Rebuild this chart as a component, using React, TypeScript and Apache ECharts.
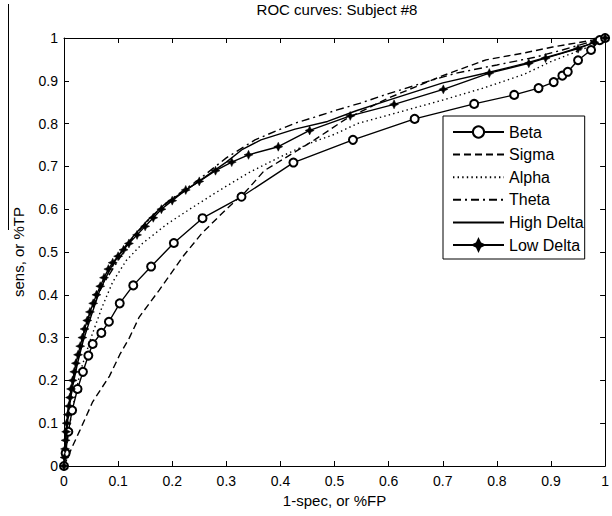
import React, { useEffect, useRef } from "react";
import * as echarts from "echarts";

const titleText = "ROC curves: Subject #8";
const xAxisName = "1-spec, or %FP";
const yAxisName = "sens, or %TP";
const seriesNames = ["Beta", "Sigma", "Alpha", "Theta", "High Delta", "Low Delta"];
const tickLabels = ["0", "0.1", "0.2", "0.3", "0.4", "0.5", "0.6", "0.7", "0.8", "0.9", "1"];

const betaX = [0, 0.003, 0.008, 0.015, 0.025, 0.035, 0.045, 0.053, 0.069, 0.083, 0.103, 0.128, 0.161, 0.203, 0.256, 0.328, 0.424, 0.534, 0.648, 0.758, 0.832, 0.877, 0.905, 0.921, 0.931, 0.95, 0.974, 0.99, 1];
const betaY = [0, 0.03, 0.08, 0.13, 0.18, 0.22, 0.258, 0.285, 0.311, 0.337, 0.38, 0.422, 0.466, 0.521, 0.579, 0.629, 0.709, 0.762, 0.811, 0.846, 0.867, 0.883, 0.897, 0.912, 0.921, 0.948, 0.972, 0.995, 1];

const sigmaX = [0, 0.015, 0.03, 0.053, 0.084, 0.103, 0.121, 0.139, 0.176, 0.222, 0.255, 0.3, 0.335, 0.37, 0.427, 0.463, 0.52, 0.6, 0.7, 0.78, 0.85, 0.903, 0.945, 0.976, 1];
const sigmaY = [0, 0.044, 0.085, 0.15, 0.21, 0.26, 0.3, 0.348, 0.411, 0.493, 0.544, 0.6, 0.64, 0.69, 0.734, 0.762, 0.81, 0.86, 0.912, 0.949, 0.965, 0.979, 0.988, 0.995, 1];

const alphaX = [0, 0.005, 0.015, 0.03, 0.05, 0.07, 0.09, 0.115, 0.145, 0.19, 0.236, 0.286, 0.341, 0.396, 0.456, 0.5, 0.542, 0.62, 0.7, 0.775, 0.85, 0.9, 0.969, 1];
const alphaY = [0, 0.05, 0.13, 0.22, 0.3, 0.37, 0.43, 0.48, 0.52, 0.565, 0.603, 0.643, 0.685, 0.72, 0.755, 0.775, 0.8, 0.827, 0.855, 0.883, 0.915, 0.945, 0.979, 1];

const thetaX = [0, 0.004, 0.01, 0.02, 0.035, 0.05, 0.07, 0.095, 0.125, 0.16, 0.2, 0.25, 0.3, 0.353, 0.396, 0.427, 0.463, 0.505, 0.548, 0.6, 0.676, 0.725, 0.8, 0.87, 0.921, 0.97, 1];
const thetaY = [0, 0.07, 0.14, 0.22, 0.3, 0.36, 0.42, 0.47, 0.53, 0.58, 0.625, 0.67, 0.72, 0.762, 0.785, 0.801, 0.815, 0.832, 0.848, 0.87, 0.9, 0.918, 0.937, 0.955, 0.972, 0.99, 1];

const highDeltaX = [0, 0.003, 0.008, 0.015, 0.025, 0.035, 0.05, 0.066, 0.085, 0.105, 0.127, 0.155, 0.188, 0.22, 0.249, 0.3, 0.33, 0.364, 0.427, 0.487, 0.54, 0.6, 0.7, 0.786, 0.85, 0.92, 0.97, 1];
const highDeltaY = [0, 0.06, 0.12, 0.18, 0.24, 0.29, 0.35, 0.41, 0.46, 0.5, 0.535, 0.575, 0.614, 0.64, 0.665, 0.71, 0.74, 0.762, 0.787, 0.805, 0.83, 0.855, 0.895, 0.92, 0.94, 0.965, 0.985, 1];

const lowDeltaX = [0, 0.001, 0.002, 0.003, 0.004, 0.005, 0.007, 0.009, 0.011, 0.013, 0.016, 0.019, 0.022, 0.026, 0.03, 0.034, 0.038, 0.043, 0.048, 0.054, 0.06, 0.067, 0.074, 0.082, 0.09, 0.1, 0.11, 0.12, 0.135, 0.15, 0.165, 0.18, 0.2, 0.225, 0.25, 0.28, 0.31, 0.341, 0.396, 0.454, 0.529, 0.61, 0.701, 0.786, 0.859, 0.89, 0.95, 0.98, 1];
const lowDeltaY = [0, 0.02, 0.04, 0.06, 0.08, 0.1, 0.12, 0.14, 0.16, 0.18, 0.2, 0.22, 0.24, 0.26, 0.28, 0.3, 0.32, 0.34, 0.36, 0.38, 0.4, 0.42, 0.44, 0.46, 0.475, 0.49, 0.505, 0.52, 0.54, 0.56, 0.58, 0.6, 0.62, 0.645, 0.665, 0.69, 0.71, 0.727, 0.746, 0.784, 0.818, 0.845, 0.88, 0.918, 0.941, 0.953, 0.975, 0.99, 1];

const FONT = "Liberation Sans";
const starPath = "path://M5,0 L6.6,3.4 L10,5 L6.6,6.6 L5,10 L3.4,6.6 L0,5 L3.4,3.4 Z";

const zip = (xs: number[], ys: number[]) => xs.map((x, i) => [x, ys[i]]);

export default function App() {
  const ref = useRef<HTMLDivElement>(null);
  useEffect(() => {
    if (!ref.current) return;
    const chart = echarts.init(ref.current, undefined, { renderer: "svg" });
    const baseLine = (name: string, xs: number[], ys: number[], lineType: any, extra: any = {}) => ({
      name,
      type: "line",
      data: zip(xs, ys),
      symbol: "none",
      showSymbol: false,
      smooth: false,
      lineStyle: { color: "#000", width: 1.4, type: lineType },
      itemStyle: { color: "#000" },
      ...extra,
    });
    const axisCommon = {
      type: "value",
      min: 0,
      max: 1,
      interval: 0.1,
      splitLine: { show: false },
      axisLine: { show: true, onZero: false, lineStyle: { color: "#000", width: 1 } },
      axisTick: { show: true, inside: true, length: 5, lineStyle: { color: "#000" } },
    };
    const hiddenSymbol = { color: "rgba(0,0,0,0)", borderWidth: 0, opacity: 0 };
    chart.setOption({
      animation: false,
      backgroundColor: "#fff",
      textStyle: { fontFamily: FONT },
      title: {
        text: titleText,
        left: 337,
        top: 2,
        padding: 0,
        textAlign: "center",
        textStyle: { fontFamily: FONT, fontSize: 15, fontWeight: "normal", color: "#000" },
      },
      grid: { left: 64, right: 2, top: 38, bottom: 50, containLabel: false },
      legend: {
        orient: "vertical",
        left: 443,
        top: 116,
        data: [
          { name: seriesNames[0] },
          { name: seriesNames[1], itemStyle: hiddenSymbol },
          { name: seriesNames[2], itemStyle: hiddenSymbol },
          { name: seriesNames[3], itemStyle: hiddenSymbol },
          { name: seriesNames[4], itemStyle: hiddenSymbol },
          { name: seriesNames[5] },
        ],
        itemWidth: 51,
        itemHeight: 14,
        itemGap: 6.6,
        padding: [8, 1, 6, 9],
        borderColor: "#000",
        borderWidth: 1,
        backgroundColor: "#fff",
        borderRadius: 0,
        textStyle: { fontFamily: FONT, fontSize: 16, color: "#000", lineHeight: 14 },
      },
      xAxis: [
        {
          ...axisCommon,
          position: "bottom",
          name: xAxisName,
          nameLocation: "middle",
          nameGap: 22,
          nameTextStyle: { fontFamily: FONT, fontSize: 15, color: "#000", verticalAlign: "top" },
          axisLabel: {
            show: true,
            margin: 8,
            color: "#000",
            fontFamily: FONT,
            fontSize: 14,
            formatter: (v: number) => tickLabels[Math.round(v * 10)],
          },
        },
        { ...axisCommon, position: "top", axisLabel: { show: false } },
      ],
      yAxis: [
        {
          ...axisCommon,
          position: "left",
          name: yAxisName,
          nameLocation: "middle",
          nameGap: 38,
          nameTextStyle: { fontFamily: FONT, fontSize: 15, color: "#000" },
          axisLabel: {
            show: true,
            margin: 6,
            color: "#000",
            fontFamily: FONT,
            fontSize: 14,
            formatter: (v: number) => tickLabels[Math.round(v * 10)],
          },
        },
        { ...axisCommon, position: "right", axisLabel: { show: false } },
      ],
      graphic: [
        {
          type: "line",
          shape: { x1: 8.5, y1: 4, x2: 8.5, y2: 230 },
          style: { stroke: "#000", lineWidth: 1 },
          z: 100,
        },
      ],
      series: [
        baseLine(seriesNames[0], betaX, betaY, "solid", {
          symbol: "emptyCircle",
          showSymbol: true,
          symbolSize: 8,
          itemStyle: { color: "#000", borderWidth: 1.4 },
        }),
        baseLine(seriesNames[1], sigmaX, sigmaY, [7, 4]),
        baseLine(seriesNames[2], alphaX, alphaY, [1.4, 3.2]),
        baseLine(seriesNames[3], thetaX, thetaY, [8, 4, 2, 4]),
        baseLine(seriesNames[4], highDeltaX, highDeltaY, "solid"),
        baseLine(seriesNames[5], lowDeltaX, lowDeltaY, "solid", {
          symbol: starPath,
          showSymbol: true,
          symbolSize: 9,
          itemStyle: { color: "#000", borderColor: "#000", borderWidth: 0.5 },
        }),
      ],
    });
    return () => chart.dispose();
  }, []);
  return (
    <div
      ref={ref}
      style={{ position: "fixed", left: 0, top: 0, width: 612, height: 516, background: "#fff" }}
    />
  );
}
